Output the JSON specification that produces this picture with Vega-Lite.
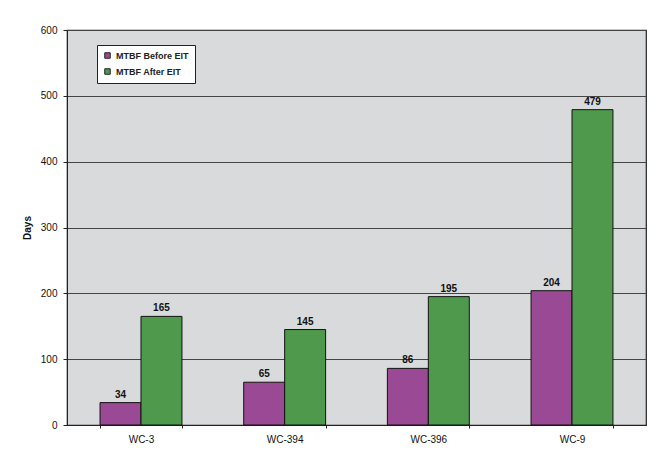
{
  "$schema": "https://vega.github.io/schema/vega-lite/v6.json",
  "width": 579,
  "height": 395,
  "autosize": {"type": "none"},
  "padding": {"left": 67, "top": 30, "right": 12, "bottom": 33},
  "background": "white",
  "data": {"values": [
    {"wc": "WC-3", "series": "MTBF Before EIT", "days": 34},
    {"wc": "WC-3", "series": "MTBF After EIT", "days": 165},
    {"wc": "WC-394", "series": "MTBF Before EIT", "days": 65},
    {"wc": "WC-394", "series": "MTBF After EIT", "days": 145},
    {"wc": "WC-396", "series": "MTBF Before EIT", "days": 86},
    {"wc": "WC-396", "series": "MTBF After EIT", "days": 195},
    {"wc": "WC-9", "series": "MTBF Before EIT", "days": 204},
    {"wc": "WC-9", "series": "MTBF After EIT", "days": 479}
  ]},
  "config": {
    "view": {"fill": "#d9dadb", "stroke": "#222", "strokeWidth": 1.2},
    "font": "Liberation Sans",
    "axis": {"labelFont": "Liberation Sans", "titleFont": "Liberation Sans", "labelColor": "#111", "titleColor": "#111"}
  },
  "encoding": {
    "x": {"field": "wc", "type": "nominal", "sort": ["WC-3", "WC-394", "WC-396", "WC-9"],
      "scale": {"paddingInner": 0.43, "paddingOuter": 0.23},
      "axis": {"title": null, "labelAngle": 0, "labelFontSize": 10, "labelPadding": 6, "domainColor": "#222", "tickColor": "#222", "ticks": true, "tickBand": "extent", "tickSize": 3}},
    "xOffset": {"field": "series", "type": "nominal", "sort": ["MTBF Before EIT", "MTBF After EIT"]}
  },
  "layer": [
    {
      "mark": {"type": "bar", "stroke": "#111", "strokeWidth": 1},
      "encoding": {
        "y": {"field": "days", "type": "quantitative", "scale": {"domain": [0, 600]},
          "axis": {"title": "Days", "titleFontSize": 10, "titleFontWeight": "bold", "titlePadding": 8, "values": [0, 100, 200, 300, 400, 500, 600], "labelFontSize": 10, "labelPadding": 6, "gridColor": "#444", "gridWidth": 1, "domainColor": "#222", "tickColor": "#222", "tickSize": 4}},
        "color": {"field": "series", "type": "nominal", "sort": ["MTBF Before EIT", "MTBF After EIT"],
          "scale": {"domain": ["MTBF Before EIT", "MTBF After EIT"], "range": ["#9a4a94", "#4f994d"]},
          "legend": {"title": null, "orient": "none", "legendX": 30, "legendY": 15, "fillColor": "white", "strokeColor": "#222", "padding": 6, "symbolType": "square", "symbolSize": 30, "symbolStrokeColor": "#222", "symbolStrokeWidth": 1, "labelFontSize": 9, "labelFontWeight": "bold", "rowPadding": 5, "labelColor": "#222"}}
      }
    },
    {
      "mark": {"type": "text", "dy": -8, "fontSize": 10, "fontWeight": "bold", "color": "#111"},
      "encoding": {
        "y": {"field": "days", "type": "quantitative"},
        "text": {"field": "days", "type": "quantitative"}
      }
    }
  ]
}
